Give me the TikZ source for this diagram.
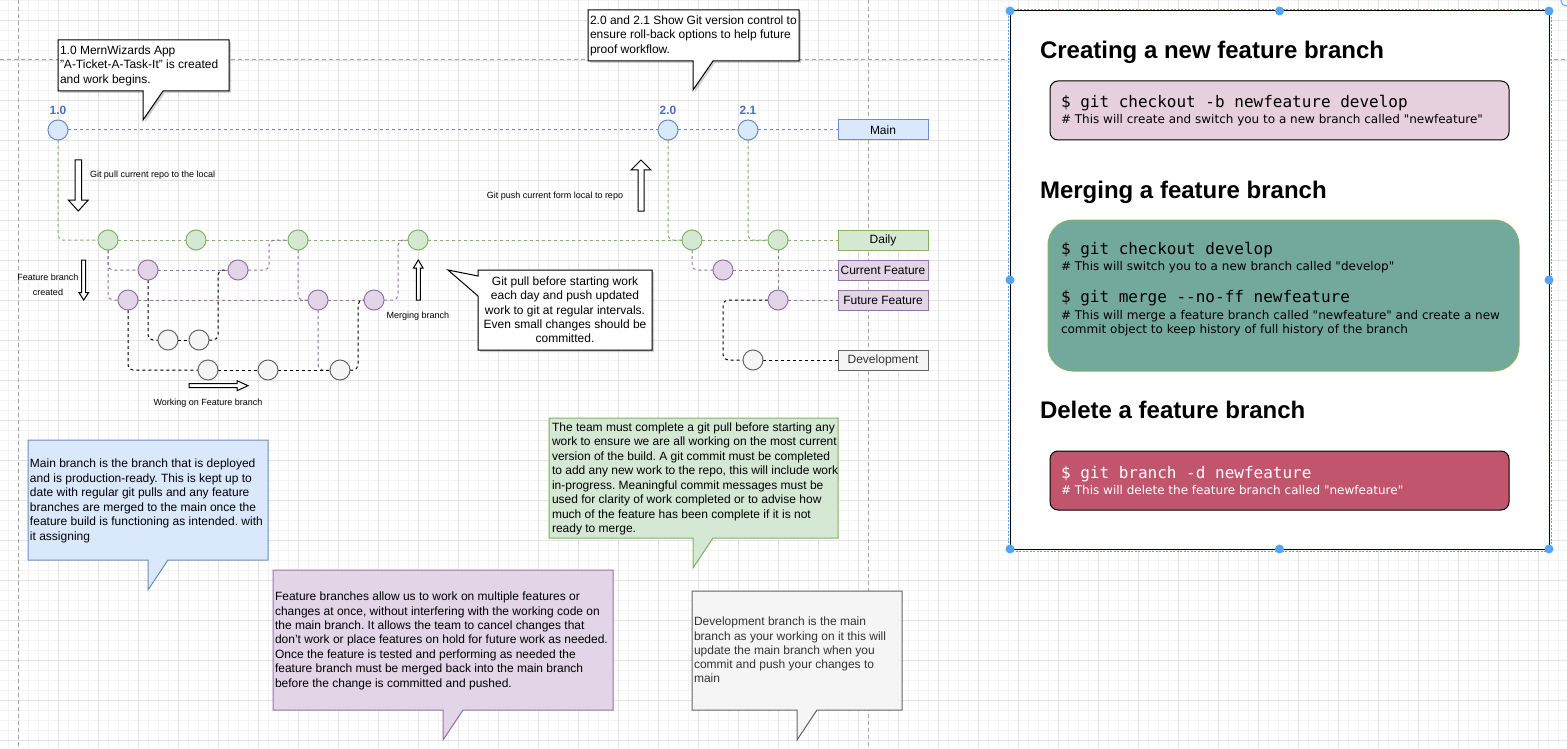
\documentclass[tikz,border=0pt]{standalone}
\usepackage{fontspec}
\setmainfont{Liberation Sans}
\newfontfamily\cmdfont{DejaVu Sans Mono}
\newfontfamily\cmtfont{DejaVu Sans}
\newcommand{\myfs}[2]{\fontsize{#1}{#2}\selectfont}
\frenchspacing
\definecolor{bluefill}{HTML}{DAE8FC}
\definecolor{bluedraw}{HTML}{6C8EBF}
\definecolor{greenfill}{HTML}{D5E8D4}
\definecolor{greendraw}{HTML}{82B366}
\definecolor{purplefill}{HTML}{E1D5E7}
\definecolor{purpledraw}{HTML}{9673A6}
\definecolor{grayfill}{HTML}{F5F5F5}
\definecolor{graydraw}{HTML}{666666}
\definecolor{graytext}{HTML}{333333}
\definecolor{verblue}{HTML}{4570D0}
\definecolor{pinkbox}{HTML}{E6D0DE}
\definecolor{tealbox}{HTML}{73A89D}
\definecolor{redbox}{HTML}{C1556E}
\definecolor{handle}{HTML}{55A6F2}
\definecolor{gridminor}{HTML}{F3F3F3}
\definecolor{gridmajor}{HTML}{E3E3E3}
\pgfdeclarelayer{gridlayer}
\pgfdeclarelayer{edgelayer}
\pgfsetlayers{gridlayer,edgelayer,main}
\begin{document}
\frenchspacing
\begin{tikzpicture}[x=1pt,y=-1pt,
  every node/.style={inner sep=0pt, outer sep=0pt},
  commit/.style={circle, minimum size=20pt, line width=1pt},
  cb/.style={commit, fill=bluefill, draw=bluedraw},
  cg/.style={commit, fill=greenfill, draw=greendraw},
  cp/.style={commit, fill=purplefill, draw=purpledraw},
  ck/.style={commit, fill=grayfill, draw=graydraw},
  branchlbl/.style={rectangle, minimum width=90pt, minimum height=20pt, line width=1pt, font=\myfs{12}{14}},
  ver/.style={font=\bfseries\myfs{12}{14}, text=verblue},
  dl/.style={dash pattern=on 3pt off 3pt, line width=1pt, rounded corners=5pt},
  bline/.style={dl, draw=bluedraw},
  gline/.style={dl, draw=greendraw},
  pline/.style={dl, draw=purpledraw},
  kline/.style={dl, draw=black},
  hollow/.style={draw=black, fill=white, line width=1pt, line join=miter},
  note/.style={font=\myfs{9}{11}},
  callout/.style={line width=1pt, line join=miter},
  shadowfill/.style={fill=black, opacity=0.18, draw=none},
  bodytext/.style={font=\myfs{12}{14.4}, align=left, anchor=north west},
  head/.style={font=\bfseries\myfs{24}{28}, anchor=base west},
  cmd/.style={font=\cmdfont\myfs{16}{18}, anchor=base west},
  cmt/.style={font=\cmtfont\myfs{12}{14}, anchor=base west, align=left},
  gridmin/.style={draw=gridminor, line width=0.8pt},
  gridmaj/.style={draw=gridmajor, line width=0.8pt},
  pagebreak/.style={draw=black!35, dash pattern=on 4pt off 3pt, line width=1pt},
  hdl/.style={circle, fill=handle, minimum size=9pt}
]
\useasboundingbox (0,0) rectangle (1567,749);

% ---------- background grid ----------
\begin{pgfonlayer}{gridlayer}
\fill[white] (0,0) rectangle (1567,749);
\foreach \x in {8,18,...,1568} \draw[gridmin] (\x,0) -- (\x,749);
\foreach \y in {0,10,...,750} \draw[gridmin] (0,\y) -- (1567,\y);
\foreach \x in {58,98,...,1578} \draw[gridmaj] (\x,0) -- (\x,749);
\foreach \y in {20,60,...,740} \draw[gridmaj] (0,\y) -- (1567,\y);
\draw[pagebreak] (18,0) -- (18,749);
\draw[pagebreak] (868,0) -- (868,749);
\draw[pagebreak] (0,60) -- (1567,60);
\end{pgfonlayer}

% ---------- commits ----------
\node[cb] (m1) at (58,130) {};
\node[cb] (m2) at (668,130) {};
\node[cb] (m3) at (748,130) {};
\node[ver] (v1) at (58,110) {1.0};
\node[ver] (v2) at (668,110) {2.0};
\node[ver] (v3) at (748,110) {2.1};

\node[cg] (d1) at (108,240) {};
\node[cg] (d2) at (196,240) {};
\node[cg] (d3) at (298,240) {};
\node[cg] (d4) at (418,240) {};
\node[cg] (d5) at (692,240) {};
\node[cg] (d6) at (778,240) {};

\node[cp] (p1) at (148,270) {};
\node[cp] (p2) at (238,270) {};
\node[cp] (p3) at (128,300) {};
\node[cp] (p4) at (318,300) {};
\node[cp] (p5) at (374,300) {};
\node[cp] (p6) at (723,270) {};
\node[cp] (p7) at (778,300) {};

\node[ck] (g1) at (168,340) {};
\node[ck] (g2) at (199,340) {};
\node[ck] (g3) at (208,370) {};
\node[ck] (g4) at (268,370) {};
\node[ck] (g5) at (340,370) {};
\node[ck] (g6) at (753,360) {};

\node[branchlbl, fill=bluefill, draw=bluedraw] (lmain) at (883,130) {Main};
\node[branchlbl, fill=greenfill, draw=greendraw] (ldaily) at (883,240) {Daily};
\node[branchlbl, fill=purplefill, draw=purpledraw] (lcur) at (883,270) {Current Feature};
\node[branchlbl, fill=purplefill, draw=purpledraw] (lfut) at (883,300) {Future Feature};
\node[branchlbl, fill=grayfill, draw=graydraw, text=graytext] (ldev) at (883,360) {Development};

% ---------- connectors ----------
\begin{pgfonlayer}{edgelayer}
\draw[bline] (m1) -- (m2) -- (m3) -- (lmain);
\draw[gline] (d1) -- (d2) -- (d3) -- (d4) -- (d5) -- (d6) -- (ldaily);
\draw[gline] (m1.south) |- (d1.west);
\draw[gline] (m2.south) |- (d5.west);
\draw[gline] (m3.south) |- (d6.west);
\draw[pline] (d1.south) |- (p1.west);
\draw[pline] (d1.south) |- (p3.west);
\draw[pline] (p1) -- (p2);
\draw[pline] (p2.east) -- ++(21,0) |- (d3.west);
\draw[pline] (p3) -- (p4);
\draw[pline] (d3.south) |- (p4.west);
\draw[pline] (p4) -- (p5);
\draw[pline] (p5.east) -- ++(14,0) |- (d4.west);
\draw[pline] (p4.south) |- (g5.west);
\draw[pline] (d5.south) |- (p6.west);
\draw[pline] (p6) -- (lcur);
\draw[pline] (d6) -- (p7);
\draw[pline] (p7) -- (lfut);
\draw[kline] (p1.south) |- (g1.west);
\draw[kline] (g1) -- (g2);
\draw[kline] (g2.east) -- ++(9,0) |- (p2.west);
\draw[kline] (p3.south) |- (g3.west);
\draw[kline] (g3) -- (g4) -- (g5);
\draw[kline] (g5.east) -- ++(8,0) |- (p5.west);
\draw[kline] (p7.west) -- ++(-45,0) |- (g6.west);
\draw[kline] (g6) -- (ldev);
\end{pgfonlayer}

% ---------- block arrows and notes ----------
\draw[hollow] (75,160) -- (81.6,160) -- (81.6,200) -- (88.3,200) -- (78.3,211) -- (68.3,200) -- (75,200) -- cycle;
\node[note, anchor=west] (tpull) at (90,175) {Git pull current repo to the local};
\draw[hollow] (638,211) -- (644,211) -- (644,170) -- (651,170) -- (641,160) -- (631,170) -- (638,170) -- cycle;
\node[note] (tpush) at (555,196) {Git push current form local to repo};
\draw[hollow] (81.7,260) -- (85.7,260) -- (85.7,292.7) -- (88.5,292.7) -- (83.7,300) -- (79,292.7) -- (81.7,292.7) -- cycle;
\node[note, align=center, font=\myfs{9}{15}] (tfb) at (48,285) {Feature branch\\created};
\draw[hollow] (416.3,300) -- (420.3,300) -- (420.3,268) -- (423,268) -- (418.3,260) -- (413.5,268) -- (416.3,268) -- cycle;
\node[note] (tmerge) at (418,316) {Merging branch};
\draw[hollow] (189,383.7) -- (237,383.7) -- (237,380.7) -- (248,385.7) -- (237,390.7) -- (237,387.7) -- (189,387.7) -- cycle;
\node[note] (twork) at (208,403) {Working on Feature branch};

% ---------- callouts ----------
\fill[shadowfill, shift={(2,2)}] (58,40) -- (229,40) -- (229,91) -- (163,91) -- (143,120) -- (143,91) -- (58,91) -- cycle;
\draw[callout, fill=white] (58,40) -- (229,40) -- (229,91) -- (163,91) -- (143,120) -- (143,91) -- (58,91) -- cycle;
\node[bodytext, font=\myfs{12}{14.3}] (c1) at (60,46) {1.0 MernWizards App\\"A-Ticket-A-Task-It" is created\\and work begins.};

\fill[shadowfill, shift={(2,2)}] (588,10) -- (799,10) -- (799,61) -- (713,61) -- (693,90) -- (693,61) -- (588,61) -- cycle;
\draw[callout, fill=white] (588,10) -- (799,10) -- (799,61) -- (713,61) -- (693,90) -- (693,61) -- (588,61) -- cycle;
\node[bodytext, font=\myfs{12}{14.3}] (c2) at (590,16) {2.0 and 2.1 Show Git version control to\\ensure roll-back options to help future\\proof workflow.};

\fill[shadowfill, shift={(2,2)}] (478,270) -- (652,270) -- (652,350) -- (478,350) -- (478,296) -- (448,270) -- (478,276) -- cycle;
\draw[callout, fill=white] (478,270) -- (652,270) -- (652,350) -- (478,350) -- (478,296) -- (448,270) -- (478,276) -- cycle;
\node[font=\myfs{12}{14.3}, align=center] (c3) at (565,310) {Git pull before starting work\\each day and push updated\\work to git at regular intervals.\\Even small changes should be\\committed.};

\draw[callout, fill=bluefill, draw=bluedraw] (28,440) -- (268,440) -- (268,560) -- (168,560) -- (148,590) -- (148,560) -- (28,560) -- cycle;
\node[bodytext, font=\myfs{12}{14.5}] (ta) at (30,459) {Main branch is the branch that is deployed\\and is production-ready. This is kept up to\\date with regular git pulls and any feature\\branches are merged to the main once the\\feature build is functioning as intended. with\\it assigning};

\draw[callout, fill=greenfill, draw=greendraw] (549,418) -- (838,418) -- (838,538) -- (713,538) -- (693,568) -- (693,538) -- (549,538) -- cycle;
\node[bodytext, font=\myfs{12}{14.5}] (tb) at (552,422.5) {The team must complete a git pull before starting any\\work to ensure we are all working on the most current\\version of the build. A git commit must be completed\\to add any new work to the repo, this will include work\\in-progress. Meaningful commit messages must be\\used for clarity of work completed or to advise how\\much of the feature has been complete if it is not\\ready to merge.};

\draw[callout, fill=purplefill, draw=purpledraw] (273,570) -- (613,570) -- (613,710) -- (463,710) -- (443,740) -- (443,710) -- (273,710) -- cycle;
\node[bodytext, font=\myfs{12}{14.4}] (tc) at (275,592) {Feature branches allow us to work on multiple features or\\changes at once, without interfering with the working code on\\the main branch. It allows the team to cancel changes that\\don't work or place features on hold for future work as needed.\\Once the feature is tested and performing as needed the\\feature branch must be merged back into the main branch\\before the change is committed and pushed.};

\draw[callout, fill=grayfill, draw=graydraw] (692,591) -- (902,591) -- (902,710) -- (817,710) -- (797,740) -- (797,710) -- (692,710) -- cycle;
\node[bodytext, font=\myfs{12}{14.3}, text=graytext] (td) at (694,617) {Development branch is the main\\branch as your working on it this will\\update the main branch when you\\commit and push your changes to\\main};

% ---------- right panel ----------
\draw[fill=white, line width=1pt] (1010,11) rectangle (1549,549);
\draw[handle, line width=0.8pt, dash pattern=on 2pt off 1.5pt] (1008,9) rectangle (1551,551);
\foreach \p [count=\i] in {(1010,11),(1279.5,11),(1549,11),(1010,280),(1549,280),(1010,549),(1279.5,549),(1549,549)}
  \node[hdl] (h\i) at \p {};
\draw[handle, line width=1pt] (1566,1) circle (5);

\node[head] (h1t) at (1040,59) {Creating a new feature branch};
\draw[fill=pinkbox, line width=1pt, rounded corners=8pt] (1050,81) rectangle (1509,140);
\node[cmd] (k1) at (1061,108) {\$ git checkout -b newfeature develop};
\node[cmt] (k1c) at (1061,123.3) {\# This will create and switch you to a new branch called "newfeature"};

\node[head] (h2t) at (1040,199) {Merging a feature branch};
\draw[fill=tealbox, draw=greendraw, line width=1pt, rounded corners=25pt] (1048,220) rectangle (1519,371);
\node[cmd] (k2) at (1061,254.3) {\$ git checkout develop};
\node[cmt] (k2c) at (1061,270.7) {\# This will switch you to a new branch called "develop"};
\node[cmd] (k3) at (1061,302.3) {\$ git merge -{}-no-ff newfeature};
\node[cmt, anchor=north west] (k3c) at (1061,310) {\# This will merge a feature branch called "newfeature" and create a new\\commit object to keep history of full history of the branch};

\node[head] (h3t) at (1040,418) {Delete a feature branch};
\draw[fill=redbox, line width=1pt, rounded corners=8pt] (1050,451) rectangle (1509,510);
\node[cmd, text=white] (k4) at (1061,478) {\$ git branch -d newfeature};
\node[cmt, text=white] (k4c) at (1061,494) {\# This will delete the feature branch called "newfeature"};
\end{tikzpicture}
\end{document}
